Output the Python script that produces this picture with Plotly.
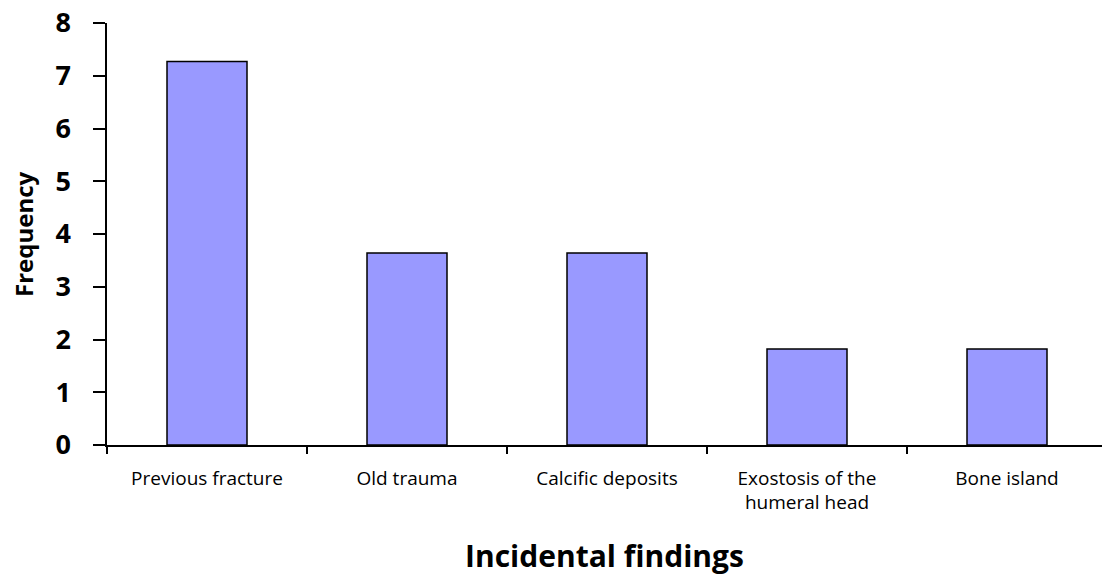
import plotly.graph_objects as go

categories = ["Previous fracture", "Old trauma", "Calcific deposits",
              "Exostosis of the<br>humeral head", "Bone island"]
frequency = [7.27, 3.64, 3.64, 1.82, 1.82]
y_ticks = [0, 1, 2, 3, 4, 5, 6, 7, 8]

FONT = "Open Sans, Lato, sans-serif"

fig = go.Figure()
fig.add_trace(go.Bar(
    x=categories, y=frequency, width=0.4,
    marker=dict(color="#9999FF", line=dict(color="black", width=1.5)),
))

fig.update_layout(
    width=1102, height=582,
    margin=dict(l=107, r=0, t=23, b=137),
    plot_bgcolor="white", paper_bgcolor="white",
    showlegend=False,
    font=dict(family=FONT, color="black"),
)
fig.update_xaxes(
    range=[-0.5, 4.475], showgrid=False, showline=True, linecolor="black", linewidth=1.5,
    ticks="outside", ticklen=7, tickwidth=1.5, tickcolor="black", tickson="boundaries",
    tickfont=dict(size=19, family=FONT), ticklabelstandoff=15, automargin=False,
)
fig.update_yaxes(
    range=[0, 8], tickvals=y_ticks, showgrid=False, zeroline=False,
    showline=True, linecolor="black", linewidth=1.5,
    ticks="outside", ticklen=12, tickwidth=1.5, tickcolor="black",
    tickfont=dict(size=27, family=FONT, weight="bold"), ticklabelstandoff=17,
    automargin=False,
)
fig.add_annotation(text="<b>Frequency</b>", xref="paper", yref="paper",
                   x=0, y=0.5, xanchor="center", yanchor="middle", xshift=-84,
                   textangle=-90, showarrow=False,
                   font=dict(size=24, family=FONT))
fig.add_annotation(text="<b>Incidental findings</b>", xref="paper", yref="paper",
                   x=0.5, y=0, xanchor="center", yanchor="middle", yshift=-110,
                   showarrow=False, font=dict(size=30, family=FONT))

fig.write_html("out.html",
               config={"displayModeBar": False},
               post_script="document.body.style.margin='0';document.body.style.overflow='hidden';")
